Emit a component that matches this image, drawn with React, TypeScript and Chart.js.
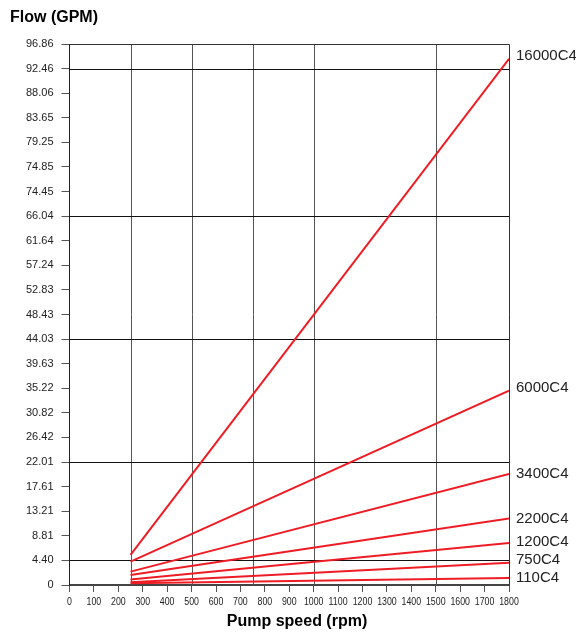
import React, { useEffect, useRef } from "react";
import { Chart, registerables } from "chart.js";
Chart.register(...registerables);

const speeds = [250, 1800];
const seriesNames = ["16000C4", "6000C4", "3400C4", "2200C4", "1200C4", "750C4", "110C4"];
const series16000 = [5.4, 94.2];
const series6000 = [4.2, 34.8];
const series3400 = [2.4, 19.9];
const series2200 = [1.8, 11.9];
const series1200 = [1.0, 7.5];
const series750 = [0.5, 4.0];
const series110 = [0.3, 1.25];
const yMax = 96.86;
const yTickLabels = ["0", "4.40", "8.81", "13.21", "17.61", "22.01", "26.42", "30.82", "35.22", "39.63", "44.03", "48.43", "52.83", "57.24", "61.64", "66.04", "74.45", "74.85", "79.25", "83.65", "88.06", "92.46", "96.86"];
const xTickValues = [0, 100, 200, 300, 400, 500, 600, 700, 800, 900, 1000, 1100, 1200, 1300, 1400, 1500, 1600, 1700, 1800];
const gridYValues = [4.403, 22.015, 44.03, 66.04, 92.46];
const gridXValues = [250, 500, 750, 1000, 1500];

const FONT = "'Liberation Sans', Arial, sans-serif";

export default function App() {
  const ref = useRef<HTMLCanvasElement>(null);
  useEffect(() => {
    document.body.style.margin = "0";
    const all = [series16000, series6000, series3400, series2200, series1200, series750, series110];
    const gridPlugin = {
      id: "customGrid",
      beforeDatasetsDraw(chart: any) {
        const { ctx, chartArea: a, scales } = chart;
        const x = scales.x, y = scales.y;
        ctx.save();
        ctx.lineWidth = 1;
        ctx.strokeStyle = "#555";
        gridXValues.forEach((v) => {
          const px = Math.round(x.getPixelForValue(v)) + 0.5;
          ctx.beginPath(); ctx.moveTo(px, a.top); ctx.lineTo(px, a.bottom); ctx.stroke();
        });
        ctx.strokeStyle = "#111";
        gridYValues.forEach((v) => {
          const py = Math.round(y.getPixelForValue(v)) + 0.5;
          ctx.beginPath(); ctx.moveTo(a.left, py); ctx.lineTo(a.right, py); ctx.stroke();
        });
        ctx.strokeStyle = "#333";
        const t = Math.round(a.top) + 0.5, r = Math.round(a.right) + 0.5;
        ctx.beginPath(); ctx.moveTo(a.left, t); ctx.lineTo(r, t); ctx.lineTo(r, a.bottom); ctx.stroke();
        ctx.restore();
      },
      afterDraw(chart: any) {
        const { ctx, scales } = chart;
        ctx.save();
        ctx.fillStyle = "#222";
        ctx.font = `11px ${FONT}`;
        ctx.textAlign = "center";
        ctx.textBaseline = "middle";
        xTickValues.forEach((v) => {
          const px = scales.x.getPixelForValue(v);
          ctx.save();
          ctx.translate(px, 602);
          ctx.scale(0.8, 1);
          ctx.fillText(String(v), 0, 0);
          ctx.restore();
        });
        ctx.fillStyle = "#000";
        ctx.font = `bold 16px ${FONT}`;
        ctx.textAlign = "left";
        ctx.fillText("Flow (GPM)", 10, 18);
        ctx.textAlign = "center";
        ctx.fillText("Pump speed (rpm)", 297, 622);
        ctx.font = `15px ${FONT}`;
        ctx.fillStyle = "#222";
        ctx.textAlign = "left";
        const nudges = [-3, -3, 0, 0, -1, -3, 0];
        all.forEach((s, i) => {
          const py = scales.y.getPixelForValue(s[s.length - 1]) + nudges[i];
          ctx.fillText(seriesNames[i], scales.x.right + 7, py);
        });
        ctx.restore();
      },
    };
    const chart = new Chart(ref.current!, {
      type: "line",
      data: {
        labels: speeds,
        datasets: all.map((s, i) => ({
          label: seriesNames[i],
          data: s.map((v, j) => ({ x: speeds[j], y: v })),
          borderColor: "#ee1c25",
          borderWidth: 2,
          pointRadius: 0,
          fill: false,
        })),
      },
      options: {
        animation: false,
        responsive: false,
        layout: { padding: { left: 0, right: 67, top: 44, bottom: 0 } },
        plugins: { legend: { display: false }, tooltip: { enabled: false } },
        scales: {
          x: {
            type: "linear",
            min: 0,
            max: 1800,
            afterBuildTicks(scale: any) {
              scale.ticks = xTickValues.map((v) => ({ value: v }));
            },
            afterFit(scale: any) { scale.height = 47; },
            grid: { drawOnChartArea: false, drawTicks: true, tickLength: 7, color: "#555" },
            border: { color: "#444", width: 2 },
            ticks: { display: false },
          },
          y: {
            type: "linear",
            min: 0,
            max: yMax,
            afterBuildTicks(scale: any) {
              scale.ticks = yTickLabels.map((_, i) => ({ value: (i * yMax) / (yTickLabels.length - 1) }));
            },
            afterFit(scale: any) { scale.width = 69.5; },
            grid: { drawOnChartArea: false, drawTicks: true, tickLength: 8, color: "#555" },
            border: { color: "#222", width: 1 },
            ticks: {
              color: "#222",
              font: { family: FONT, size: 11 },
              padding: 8,
              autoSkip: false,
              callback: (_v: any, i: number) => yTickLabels[i],
            },
          },
        },
      },
      plugins: [gridPlugin],
    } as any);
    return () => chart.destroy();
  }, []);
  return <canvas ref={ref} width={576} height={632} style={{ display: "block" }} />;
}
